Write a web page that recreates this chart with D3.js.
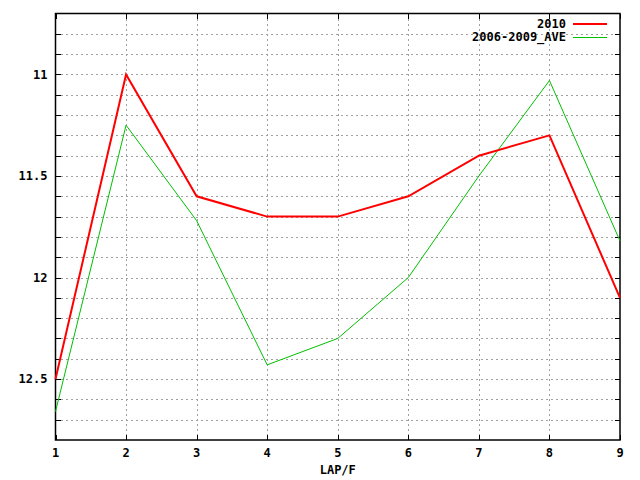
<!DOCTYPE html>
<html>
<head>
<meta charset="utf-8">
<script src="https://cdn.jsdelivr.net/npm/d3@7"></script>
<style>
  body { margin: 0; background: #fff; }
  text { font-family: "DejaVu Sans Mono", monospace; font-weight: bold; font-size: 12px; }
</style>
</head>
<body>
<div class="chart"></div>
<script>
const laps = [1, 2, 3, 4, 5, 6, 7, 8, 9]
const times2010 = [12.5, 11.0, 11.6, 11.7, 11.7, 11.6, 11.4, 11.3, 12.1]
const timesAve = [12.66, 11.25, 11.72, 12.43, 12.3, 12.0, 11.5, 11.03, 11.82]
const yLabelTicks = [11, 11.5, 12, 12.5]
const yGridTicks = [10.8, 10.9, 11, 11.1, 11.2, 11.3, 11.4, 11.5, 11.6, 11.7, 11.8, 11.9, 12, 12.1, 12.2, 12.3, 12.4, 12.5, 12.6, 12.7]
const seriesNames = ["2010", "2006-2009_AVE"]

const width = 640, height = 480
const margin = { top: 13.5, right: 20, bottom: 40, left: 55.5 }

const x = d3.scaleLinear().domain([1, 9]).range([margin.left, width - margin.right])
const y = d3.scaleLinear().domain([10.7, 12.8]).range([margin.top, height - margin.bottom])

const svg = d3.select(".chart").append("svg")
    .attr("width", width)
    .attr("height", height)

// grid
const grid = svg.append("g")
    .attr("stroke", "#a0a0a0")
    .attr("stroke-dasharray", "2,3")
    .attr("shape-rendering", "crispEdges")

grid.selectAll(".gy")
    .data(yGridTicks)
    .join("line")
    .attr("x1", margin.left).attr("x2", width - margin.right)
    .attr("y1", d => Math.round(y(d)) + 0.5).attr("y2", d => Math.round(y(d)) + 0.5)

grid.selectAll(".gx")
    .data(laps.slice(1, -1))
    .join("line")
    .attr("x1", d => Math.round(x(d)) + 0.5).attr("x2", d => Math.round(x(d)) + 0.5)
    .attr("y1", margin.top).attr("y2", height - margin.bottom)

// ticks (inward, mirrored)
const ticks = svg.append("g").attr("stroke", "#000").attr("shape-rendering", "crispEdges")
ticks.selectAll(".ly").data(yGridTicks).join("line")
    .attr("x1", margin.left).attr("x2", margin.left + 5)
    .attr("y1", d => Math.round(y(d)) + 0.5).attr("y2", d => Math.round(y(d)) + 0.5)
ticks.selectAll(".ry").data(yGridTicks).join("line")
    .attr("x1", width - margin.right - 5).attr("x2", width - margin.right)
    .attr("y1", d => Math.round(y(d)) + 0.5).attr("y2", d => Math.round(y(d)) + 0.5)
ticks.selectAll(".bx").data(laps).join("line")
    .attr("x1", d => Math.round(x(d)) + 0.5).attr("x2", d => Math.round(x(d)) + 0.5)
    .attr("y1", height - margin.bottom).attr("y2", height - margin.bottom - 5)
ticks.selectAll(".tx").data(laps).join("line")
    .attr("x1", d => Math.round(x(d)) + 0.5).attr("x2", d => Math.round(x(d)) + 0.5)
    .attr("y1", margin.top).attr("y2", margin.top + 5)

// frame
svg.append("rect")
    .attr("x", margin.left).attr("y", margin.top)
    .attr("width", width - margin.left - margin.right)
    .attr("height", height - margin.top - margin.bottom)
    .attr("fill", "none").attr("stroke", "#000").attr("stroke-width", 1.5)

// tick labels
svg.append("g")
    .attr("text-anchor", "end")
    .selectAll("text")
    .data(yLabelTicks)
    .join("text")
    .attr("x", margin.left - 8)
    .attr("y", d => y(d))
    .attr("dy", "0.35em")
    .text(d => d)

svg.append("g")
    .attr("text-anchor", "middle")
    .selectAll("text")
    .data(laps)
    .join("text")
    .attr("x", d => x(d))
    .attr("y", height - margin.bottom + 17)
    .text(d => d)

svg.append("text")
    .attr("x", (margin.left + width - margin.right) / 2)
    .attr("y", 474)
    .attr("text-anchor", "middle")
    .text("LAP/F")

// lines
const line = d3.line().x((d, i) => x(laps[i])).y(d => y(d))
const plotG = svg.append("g")
plotG.append("path").datum(timesAve)
    .attr("d", line).attr("fill", "none")
    .attr("stroke", "#00c000").attr("stroke-width", 1)
plotG.append("path").datum(times2010)
    .attr("d", line).attr("fill", "none")
    .attr("stroke", "#ff0000").attr("stroke-width", 2)

// legend
const colors = ["#ff0000", "#00c000"]
const widths = [2, 1]
const legend = svg.append("g")
    .selectAll("g")
    .data(seriesNames)
    .join("g")
    .attr("transform", (d, i) => `translate(0,${24 + i * 13})`)
legend.append("text")
    .attr("x", 566).attr("dy", "0.35em")
    .attr("text-anchor", "end")
    .text(d => d)
legend.append("line")
    .attr("x1", 573).attr("x2", 607)
    .attr("y1", (d, i) => widths[i] === 1 ? 0.5 : 0)
    .attr("y2", (d, i) => widths[i] === 1 ? 0.5 : 0)
    .attr("stroke", (d, i) => colors[i])
    .attr("stroke-width", (d, i) => widths[i])
</script>
</body>
</html>
